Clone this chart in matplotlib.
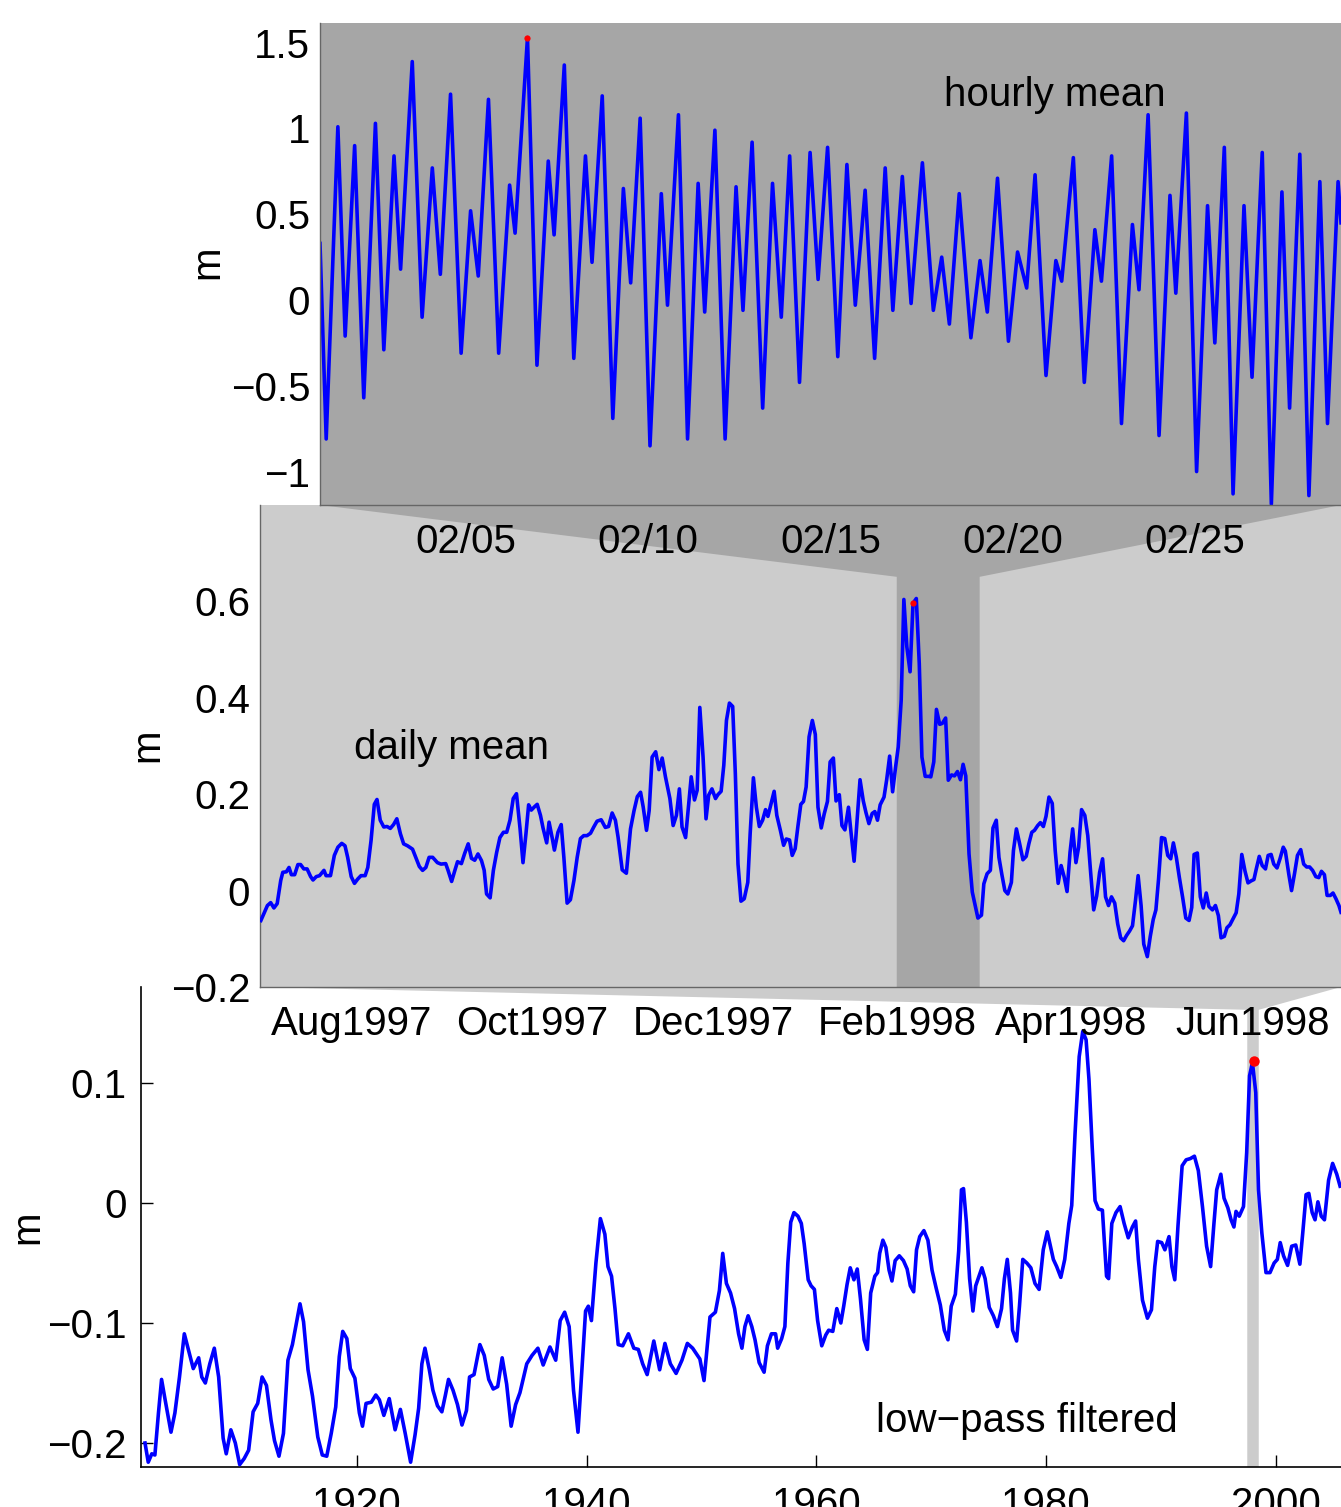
"""
Sea level at three time scales: hourly (Feb 1998), daily (Jul 1997 - Jul 1998)
and low-pass filtered (1901 - 2005), with zoom connectors between the panels.
"""
import numpy as np
import matplotlib
matplotlib.use("Agg")
import matplotlib.pyplot as plt
from matplotlib.patches import Polygon

# ---- hourly mean, days since 1998-02-01 00:00 (read at the turning points)
hourly_t = [0.00, 0.17, 0.49, 0.69, 0.95, 1.20, 1.52, 1.75, 2.03, 2.21, 2.53, 2.80,
            3.08, 3.30, 3.58, 3.87, 4.13, 4.34, 4.62, 4.90, 5.20, 5.35, 5.69, 5.95,
            6.26, 6.42, 6.70, 6.96, 7.28, 7.46, 7.74, 8.03, 8.32, 8.52, 8.78, 9.05,
            9.36, 9.53, 9.83, 10.08, 10.37, 10.55, 10.83, 11.11, 11.41, 11.60, 11.85,
            12.14, 12.41, 12.65, 12.88, 13.15, 13.44, 13.66, 13.92, 14.20, 14.45,
            14.68, 14.95, 15.21, 15.50, 15.71, 15.97, 16.21, 16.52, 16.82, 17.05,
            17.26, 17.53, 17.85, 18.10, 18.30, 18.58, 18.88, 19.13, 19.38, 19.61,
            19.91, 20.18, 20.34, 20.66, 20.96, 21.25, 21.43, 21.71, 21.98, 22.28,
            22.46, 22.71, 23.01, 23.31, 23.47, 23.76, 24.04, 24.34, 24.54, 24.80,
            25.04, 25.34, 25.56, 25.84, 26.09, 26.38, 26.59, 26.87, 27.12, 27.42,
            27.63, 27.92, 28.00]
hourly_m = [0.33, -0.81, 1.01, -0.21, 0.90, -0.57, 1.03, -0.29, 0.84, 0.18, 1.39, -0.10,
            0.77, 0.15, 1.20, -0.31, 0.52, 0.14, 1.17, -0.31, 0.67, 0.39, 1.53, -0.38,
            0.81, 0.38, 1.37, -0.34, 0.84, 0.22, 1.19, -0.69, 0.65, 0.10, 1.06, -0.85,
            0.62, -0.03, 1.08, -0.81, 0.68, -0.07, 0.99, -0.81, 0.66, -0.06, 0.92,
            -0.63, 0.68, -0.10, 0.84, -0.48, 0.86, 0.12, 0.89, -0.33, 0.79,
            -0.03, 0.64, -0.34, 0.77, -0.06, 0.72, -0.02, 0.80, -0.06, 0.25,
            -0.14, 0.62, -0.22, 0.23, -0.07, 0.71, -0.24, 0.28, 0.07, 0.73,
            -0.44, 0.23, 0.11, 0.83, -0.48, 0.41, 0.11, 0.84, -0.72, 0.44,
            0.06, 1.08, -0.79, 0.61, 0.04, 1.09, -1.00, 0.55, -0.25, 0.89,
            -1.13, 0.55, -0.45, 0.86, -1.19, 0.63, -0.63, 0.85, -1.14, 0.69,
            -0.72, 0.69, 0.45]
hourly_peak = (5.69, 1.53)
hourly_ticks = [4, 9, 14, 19, 24]
hourly_ticklabels = ["02/05", "02/10", "02/15", "02/20", "02/25"]
hourly_yticks = [-1, -0.5, 0, 0.5, 1, 1.5]
hourly_yticklabels = ["\u22121", "\u22120.5", "0", "0.5", "1", "1.5"]

# ---- daily mean, days since 1997-07-01
daily_t = [0.3, 2.5, 3.6, 4.7, 5.8, 7.0, 7.7, 8.9, 9.8, 10.6, 11.7, 12.8, 13.7, 14.8,
           15.9, 17.1, 17.9, 19.0, 20.1, 21.6, 22.3, 23.8, 25.1, 26.3, 27.6, 28.7,
           29.6, 30.8, 31.9, 33.0, 34.1, 35.5, 36.4, 37.5, 38.6, 39.5, 40.6, 41.8,
           42.9, 44.0, 45.1, 46.2, 47.4, 48.5, 49.8, 51.5, 52.6, 53.8, 54.9, 56.0,
           57.1, 58.3, 59.9, 61.1, 62.7, 63.5, 64.7, 65.8, 66.7, 68.0, 69.1, 70.3,
           71.4, 72.5, 73.6, 74.8, 75.7, 76.5, 77.7, 78.8, 79.9, 81.0, 82.2, 83.3,
           84.4, 85.5, 86.6, 87.8, 88.8, 89.8, 90.7, 91.6, 92.7, 93.6, 94.7, 95.6,
           96.8, 97.6, 98.7, 99.4, 100.6, 101.7, 102.6, 103.7, 104.8, 106.0, 107.1,
           108.2, 109.3, 110.4, 111.6, 112.7, 113.8, 115.2, 116.6, 117.7, 118.9,
           120.0, 120.9, 122.3, 123.7, 125.1, 126.3, 127.4, 128.5, 129.4, 130.5,
           131.4, 132.4, 133.6, 134.7, 135.8, 136.9, 138.4, 139.5, 140.6, 141.6,
           142.5, 143.7, 144.8, 145.6, 146.7, 147.6, 148.5, 149.6, 150.6, 151.5,
           152.6, 153.8, 154.6, 155.7, 156.6, 157.5, 158.5, 159.6, 160.5, 161.4,
           162.4, 163.5, 164.7, 165.5, 166.6, 167.6, 168.6, 169.7, 170.7, 171.5,
           172.5, 173.6, 174.5, 175.7, 176.8, 177.7, 178.8, 179.7, 180.7, 181.6,
           182.6, 183.5, 184.4, 185.4, 186.5, 187.5, 188.4, 189.5, 190.5, 191.6,
           192.5, 193.6, 194.5, 195.6, 196.5, 197.5, 198.7, 199.6, 200.6, 201.6,
           202.6, 203.7, 204.6, 205.6, 206.7, 207.6, 208.5, 209.4, 210.7, 211.6,
           212.6, 213.6, 214.6, 215.5, 216.5, 217.4, 218.4, 219.5, 220.5, 221.6,
           222.6, 223.5, 224.6, 225.7, 226.5, 227.5, 228.4, 229.5, 230.4, 231.5,
           232.4, 233.5, 234.5, 235.5, 236.5, 237.4, 238.3, 239.4, 240.5, 242.4,
           243.6, 244.4, 245.5, 246.6, 247.5, 248.6, 249.5, 250.5, 251.5, 252.5,
           253.7, 254.4, 255.4, 256.5, 257.6, 258.7, 259.6, 260.6, 261.5, 262.6,
           263.5, 264.5, 265.4, 266.4, 267.5, 268.5, 269.5, 270.5, 271.5, 272.5,
           273.5, 274.4, 275.5, 276.4, 277.4, 278.5, 279.5, 280.5, 281.5, 282.5,
           283.5, 284.5, 285.5, 286.5, 287.5, 288.6, 289.6, 290.6, 291.6, 292.6,
           293.6, 294.6, 295.6, 296.5, 297.5, 298.4, 299.6, 300.6, 301.6, 302.5,
           303.4, 304.4, 305.5, 306.5, 307.5, 308.4, 309.4, 310.4, 311.5, 312.6,
           313.7, 314.6, 315.4, 316.5, 317.5, 318.5, 319.5, 320.4, 321.6, 322.6,
           323.6, 324.5, 325.6, 326.5, 327.5, 328.5, 329.6, 330.5, 331.5, 332.6,
           333.6, 334.6, 335.6, 336.4, 337.4, 338.4, 339.5, 340.4, 341.4, 342.3,
           343.4, 344.4, 345.5, 346.2, 347.4, 348.3, 349.3, 350.3, 351.4, 352.4,
           353.4, 354.4, 355.4, 356.5, 357.5, 358.4, 359.4, 360.3, 361.4, 362.3,
           363.3, 364.3, 365.0]
daily_m = [-0.062, -0.031, -0.025, -0.036, -0.027, 0.021, 0.038, 0.039, 0.048, 0.033,
           0.033, 0.054, 0.054, 0.045, 0.045, 0.029, 0.022, 0.029, 0.031, 0.042,
           0.031, 0.031, 0.073, 0.090, 0.098, 0.093, 0.069, 0.029, 0.015, 0.024,
           0.031, 0.031, 0.048, 0.104, 0.179, 0.189, 0.146, 0.132, 0.133, 0.129,
           0.137, 0.149, 0.118, 0.097, 0.093, 0.086, 0.069, 0.050, 0.042, 0.048,
           0.069, 0.069, 0.058, 0.055, 0.056, 0.042, 0.019, 0.042, 0.060, 0.056,
           0.077, 0.097, 0.067, 0.063, 0.076, 0.062, 0.042, -0.007, -0.015, 0.042,
           0.079, 0.110, 0.121, 0.121, 0.146, 0.191, 0.201, 0.129, 0.058, 0.118,
           0.178, 0.167, 0.174, 0.179, 0.156, 0.129, 0.099, 0.142, 0.108, 0.084,
           0.121, 0.137, 0.069, -0.026, -0.019, 0.021, 0.069, 0.108, 0.114, 0.114,
           0.119, 0.132, 0.144, 0.147, 0.131, 0.133, 0.161, 0.146, 0.111, 0.043,
           0.036, 0.128, 0.166, 0.195, 0.204, 0.173, 0.125, 0.166, 0.277, 0.288,
           0.251, 0.275, 0.236, 0.191, 0.135, 0.156, 0.211, 0.132, 0.110, 0.184,
           0.236, 0.188, 0.208, 0.380, 0.277, 0.149, 0.198, 0.211, 0.191, 0.199,
           0.206, 0.260, 0.353, 0.389, 0.382, 0.242, 0.055, -0.022, -0.017, 0.017,
           0.118, 0.234, 0.173, 0.133, 0.146, 0.168, 0.154, 0.179, 0.206, 0.156,
           0.125, 0.094, 0.107, 0.105, 0.073, 0.087, 0.132, 0.179, 0.185, 0.215,
           0.319, 0.353, 0.324, 0.173, 0.130, 0.159, 0.185, 0.267, 0.275, 0.186,
           0.199, 0.135, 0.126, 0.173, 0.118, 0.061, 0.146, 0.230, 0.186, 0.162,
           0.139, 0.160, 0.164, 0.146, 0.178, 0.194, 0.230, 0.279, 0.205, 0.256,
           0.298, 0.395, 0.604, 0.506, 0.454, 0.596, 0.606, 0.471, 0.277, 0.237,
           0.237, 0.236, 0.267, 0.376, 0.345, 0.347, 0.358, 0.229, 0.240, 0.238,
           0.247, 0.230, 0.262, 0.238, 0.076, -0.003, -0.057, -0.051, 0.014, 0.035,
           0.042, 0.130, 0.146, 0.069, 0.033, 0.000, -0.007, 0.017, 0.083, 0.128,
           0.097, 0.064, 0.071, 0.097, 0.121, 0.125, 0.135, 0.141, 0.133, 0.154,
           0.194, 0.181, 0.083, 0.015, 0.052, 0.029, -0.002, 0.079, 0.128, 0.058,
           0.090, 0.168, 0.156, 0.114, 0.035, -0.040, -0.011, 0.038, 0.066, -0.013,
           -0.031, -0.013, -0.026, -0.069, -0.098, -0.104, -0.093, -0.084, -0.073,
           -0.021, 0.031, -0.031, -0.111, -0.137, -0.095, -0.060, -0.040, 0.024,
           0.110, 0.108, 0.073, 0.066, 0.099, 0.069, 0.028, -0.013, -0.057, -0.062,
           -0.035, 0.075, 0.078, -0.013, -0.036, -0.005, -0.033, -0.040, -0.031,
           -0.052, -0.098, -0.095, -0.077, -0.071, -0.059, -0.046, -0.007, 0.075,
           0.040, 0.016, 0.020, 0.023, 0.045, 0.071, 0.052, 0.045, 0.073, 0.075,
           0.055, 0.047, 0.066, 0.090, 0.082, 0.033, 0.000, 0.035, 0.073, 0.085,
           0.055, 0.049, 0.049, 0.042, 0.029, 0.027, 0.040, 0.033, -0.010, -0.010,
           -0.005, -0.017, -0.031, -0.045]
daily_peak = (220.5, 0.596)
daily_ticks = [31, 92, 153, 215, 274, 335]
daily_ticklabels = ["Aug1997", "Oct1997", "Dec1997", "Feb1998", "Apr1998", "Jun1998"]
daily_yticks = [-0.2, 0, 0.2, 0.4, 0.6]
daily_yticklabels = ["\u22120.2", "0", "0.2", "0.4", "0.6"]
daily_zoom = (215, 243)      # Feb 1998 inside the daily panel

# ---- low-pass filtered, decimal years
lowpass_yr = [1901.55, 1901.83, 1902.14, 1902.41, 1902.72, 1902.99, 1903.30, 1903.81,
              1904.15, 1904.55, 1904.97, 1905.32, 1905.75, 1906.22, 1906.49, 1906.80,
              1907.19, 1907.58, 1907.96, 1908.35, 1908.62, 1909.02, 1909.41, 1909.79,
              1910.18, 1910.57, 1910.96, 1911.36, 1911.74, 1912.12, 1912.52, 1912.82,
              1913.21, 1913.60, 1913.99, 1914.38, 1914.65, 1915.04, 1915.35, 1915.74,
              1916.13, 1916.59, 1916.98, 1917.37, 1917.76, 1918.15, 1918.46, 1918.76,
              1919.12, 1919.42, 1919.82, 1920.21, 1920.48, 1920.79, 1921.25, 1921.64,
              1921.95, 1922.34, 1922.81, 1923.32, 1923.78, 1924.20, 1924.67, 1925.06,
              1925.37, 1925.65, 1925.92, 1926.30, 1926.61, 1927.01, 1927.39, 1927.70,
              1927.97, 1928.36, 1928.75, 1929.14, 1929.53, 1929.80, 1930.19, 1930.70,
              1931.08, 1931.47, 1931.86, 1932.25, 1932.64, 1933.03, 1933.42, 1933.81,
              1934.19, 1934.78, 1935.24, 1935.75, 1936.21, 1936.80, 1937.30, 1937.69,
              1938.08, 1938.47, 1938.85, 1939.24, 1939.64, 1939.90, 1940.14, 1940.41,
              1940.80, 1941.19, 1941.58, 1941.85, 1942.16, 1942.46, 1942.74, 1943.13,
              1943.63, 1944.10, 1944.49, 1944.87, 1945.26, 1945.84, 1946.35, 1946.81,
              1947.28, 1947.78, 1948.29, 1948.76, 1949.22, 1949.85, 1950.21, 1950.73,
              1951.20, 1951.55, 1951.84, 1952.16, 1952.52, 1952.87, 1953.22, 1953.51,
              1953.77, 1954.05, 1954.37, 1954.65, 1955.01, 1955.44, 1955.73, 1956.08,
              1956.44, 1956.62, 1956.97, 1957.25, 1957.51, 1957.76, 1958.04, 1958.39,
              1958.68, 1958.93, 1959.28, 1959.53, 1959.82, 1960.10, 1960.46, 1960.81,
              1961.06, 1961.42, 1961.77, 1962.12, 1962.37, 1962.66, 1962.94, 1963.26,
              1963.55, 1963.83, 1964.15, 1964.43, 1964.72, 1965.08, 1965.32, 1965.50,
              1965.78, 1966.04, 1966.32, 1966.57, 1966.85, 1967.21, 1967.57, 1967.89,
              1968.17, 1968.46, 1968.71, 1968.99, 1969.35, 1969.70, 1970.06, 1970.42,
              1970.78, 1971.13, 1971.45, 1971.73, 1972.09, 1972.38, 1972.62, 1972.80,
              1973.05, 1973.33, 1973.62, 1973.86, 1974.15, 1974.40, 1974.68, 1975.04,
              1975.40, 1975.75, 1976.11, 1976.36, 1976.61, 1976.89, 1977.07, 1977.42,
              1977.67, 1977.96, 1978.31, 1978.66, 1979.02, 1979.38, 1979.74, 1980.09,
              1980.37, 1980.62, 1980.91, 1981.27, 1981.61, 1981.97, 1982.22, 1982.51,
              1982.87, 1983.18, 1983.47, 1983.72, 1984.00, 1984.25, 1984.54, 1984.89,
              1985.25, 1985.43, 1985.71, 1986.07, 1986.43, 1986.78, 1987.14, 1987.50,
              1987.78, 1988.02, 1988.38, 1988.81, 1989.16, 1989.45, 1989.70, 1990.05,
              1990.33, 1990.69, 1990.94, 1991.19, 1991.47, 1991.83, 1992.18, 1992.54,
              1992.90, 1993.24, 1993.60, 1993.96, 1994.31, 1994.60, 1994.84, 1995.20,
              1995.48, 1995.81, 1996.09, 1996.34, 1996.52, 1996.80, 1997.17, 1997.45,
              1997.70, 1997.95, 1998.24, 1998.48, 1998.77, 1999.13, 1999.48, 1999.84,
              2000.12, 2000.37, 2000.66, 2001.01, 2001.37, 2001.72, 2002.08, 2002.33,
              2002.62, 2002.86, 2003.15, 2003.40, 2003.65, 2003.94, 2004.22, 2004.58,
              2004.93, 2005.29, 2005.58]
lowpass_m = [-0.200, -0.216, -0.209, -0.210, -0.175, -0.147, -0.164, -0.191,
             -0.175, -0.145, -0.109, -0.122, -0.138, -0.129, -0.145, -0.150,
             -0.134, -0.121, -0.145, -0.196, -0.209, -0.189, -0.200, -0.218,
             -0.213, -0.206, -0.174, -0.167, -0.145, -0.152, -0.181, -0.198,
             -0.211, -0.192, -0.131, -0.118, -0.104, -0.084, -0.099, -0.139,
             -0.161, -0.195, -0.210, -0.211, -0.192, -0.170, -0.128, -0.107,
             -0.113, -0.138, -0.146, -0.175, -0.186, -0.167, -0.166, -0.160,
             -0.164, -0.177, -0.163, -0.189, -0.172, -0.192, -0.216, -0.193,
             -0.171, -0.134, -0.121, -0.139, -0.156, -0.169, -0.174, -0.160,
             -0.147, -0.156, -0.168, -0.185, -0.173, -0.145, -0.143, -0.118,
             -0.127, -0.147, -0.155, -0.153, -0.129, -0.151, -0.186, -0.168,
             -0.158, -0.134, -0.127, -0.121, -0.135, -0.120, -0.131, -0.098,
             -0.091, -0.103, -0.156, -0.191, -0.129, -0.090, -0.086, -0.098,
             -0.050, -0.013, -0.026, -0.053, -0.061, -0.088, -0.118, -0.119,
             -0.109, -0.121, -0.122, -0.134, -0.143, -0.115, -0.139, -0.117,
             -0.134, -0.142, -0.131, -0.117, -0.121, -0.130, -0.148, -0.095,
             -0.091, -0.073, -0.042, -0.067, -0.075, -0.088, -0.109, -0.121,
             -0.103, -0.094, -0.103, -0.114, -0.133, -0.141, -0.119, -0.109,
             -0.109, -0.121, -0.113, -0.103, -0.050, -0.016, -0.008, -0.011,
             -0.017, -0.034, -0.064, -0.069, -0.072, -0.098, -0.119, -0.110,
             -0.106, -0.107, -0.088, -0.100, -0.086, -0.068, -0.054, -0.064,
             -0.055, -0.080, -0.114, -0.122, -0.075, -0.061, -0.058, -0.042,
             -0.031, -0.037, -0.056, -0.065, -0.048, -0.044, -0.048, -0.055,
             -0.069, -0.074, -0.039, -0.028, -0.023, -0.031, -0.056, -0.071,
             -0.085, -0.106, -0.114, -0.086, -0.076, -0.040, 0.011, 0.012,
             -0.016, -0.063, -0.090, -0.069, -0.061, -0.054, -0.063, -0.087,
             -0.094, -0.103, -0.088, -0.063, -0.047, -0.075, -0.106, -0.115,
             -0.086, -0.047, -0.050, -0.054, -0.067, -0.072, -0.039, -0.024,
             -0.036, -0.047, -0.053, -0.062, -0.047, -0.017, -0.002, 0.058,
             0.122, 0.143, 0.136, 0.103, 0.047, 0.002, -0.005, -0.006,
             -0.061, -0.063, -0.017, -0.008, -0.003, -0.017, -0.029, -0.020,
             -0.015, -0.047, -0.081, -0.096, -0.089, -0.053, -0.032, -0.033,
             -0.039, -0.028, -0.053, -0.064, -0.019, 0.031, 0.036, 0.037,
             0.039, 0.027, -0.003, -0.036, -0.053, -0.017, 0.011, 0.024,
             0.004, -0.004, -0.014, -0.020, -0.007, -0.011, -0.003, 0.042,
             0.106, 0.117, 0.092, 0.011, -0.025, -0.058, -0.058, -0.050,
             -0.047, -0.033, -0.044, -0.052, -0.036, -0.035, -0.051, -0.025,
             0.007, 0.008, -0.008, -0.014, 0.001, -0.011, -0.014, 0.019,
             0.033, 0.024, 0.014]
lowpass_peak = (1998.1, 0.118)
lowpass_ticks = [1920, 1940, 1960, 1980, 2000]
lowpass_yticks = [-0.2, -0.1, 0, 0.1]
lowpass_yticklabels = ["\u22120.2", "\u22120.1", "0", "0.1"]
lowpass_zoom = (1997.5, 1998.5)   # Jul 1997 - Jul 1998 inside the low-pass panel

plt.rcParams['font.family'] = ['Liberation Sans', 'DejaVu Sans']
plt.rcParams['font.size'] = 29

W, H = 1341, 1507
DARK, LIGHT, BLUE = '#a6a6a6', '#cccccc', '#0000ff'
LW = 2.6


def box(left, top, right, bottom):
    """pixel box -> figure fraction [l, b, w, h]"""
    return [left / W, 1 - bottom / H, (right - left) / W, (bottom - top) / H]


fig = plt.figure(figsize=(W / 100, H / 100), dpi=100)
# added bottom-up so every panel's tick labels sit on top of the panel below
ax3 = fig.add_axes(box(141, 987, 1341, 1467))
ax2 = fig.add_axes(box(260, 505, 1341, 987))
ax1 = fig.add_axes(box(320, 23, 1341, 505))

# hourly
ax1.set_facecolor(DARK)
ax1.plot(hourly_t, hourly_m, color=BLUE, lw=LW)
ax1.plot(*hourly_peak, 'o', color='red', ms=4.5, mec='none')
ax1.set_xlim(0, 28)
ax1.set_ylim(-1.195, 1.615)
ax1.set_xticks(hourly_ticks, hourly_ticklabels)
ax1.set_yticks(hourly_yticks, hourly_yticklabels)
ax1.text(17.1, 1.131, "hourly mean")

# daily
ax2.set_facecolor(LIGHT)
ax2.plot(daily_t, daily_m, color=BLUE, lw=LW, zorder=3)
ax2.plot(*daily_peak, 'o', color='red', ms=4.5, mec='none', zorder=4)
ax2.set_xlim(0, 365)
ax2.set_ylim(-0.2, 0.8)
ax2.set_xticks(daily_ticks, daily_ticklabels)
ax2.set_yticks(daily_yticks, daily_yticklabels)
ax2.text(31.6, 0.274, "daily mean")

# low-pass
ax3.plot(lowpass_yr, lowpass_m, color=BLUE, lw=LW, zorder=3)
ax3.plot(*lowpass_peak, 'o', color='red', ms=7.5, mec='none', zorder=4)
ax3.set_xlim(1901.2, 2005.66)
ax3.set_ylim(-0.22, 0.18)
ax3.set_xticks(lowpass_ticks)
ax3.set_yticks(lowpass_yticks, lowpass_yticklabels)
ax3.text(1965.15, -0.1906, "low\u2212pass filtered")

for ax in (ax1, ax2):
    for side in ('top', 'right'):
        ax.spines[side].set_visible(False)
    for side in ('left', 'bottom'):
        ax.spines[side].set_color('#666666')
        ax.spines[side].set_linewidth(1.0)
    ax.tick_params(length=0)
    ax.tick_params(axis='y', pad=7)
    ax.tick_params(axis='x', pad=13)

for side in ('top', 'right'):
    ax3.spines[side].set_visible(False)
for side in ('left', 'bottom'):
    ax3.spines[side].set_linewidth(1.2)
ax3.tick_params(direction='in', length=8.5, width=1)
ax3.tick_params(axis='y', pad=10.5)
ax3.tick_params(axis='x', pad=14)

# zoom connectors: bottom edge of the upper panel fanned onto a band in the lower one
to_fig = fig.transFigure.inverted()


def connector(upper, lower, x0, x1, band_top, color):
    ybot = lower.get_ylim()[0]
    pts = [upper.transAxes.transform((0, 0)), upper.transAxes.transform((1, 0)),
           lower.transData.transform((x1, band_top)), lower.transData.transform((x1, ybot)),
           lower.transData.transform((x0, ybot)), lower.transData.transform((x0, band_top))]
    poly = Polygon(to_fig.transform(np.array(pts)), closed=True, transform=fig.transFigure,
                   facecolor=color, edgecolor='none', zorder=0.5, clip_on=False)
    lower.add_patch(poly)


connector(ax1, ax2, *daily_zoom, 0.651, DARK)
connector(ax2, ax3, *lowpass_zoom, 0.161, LIGHT)

# y labels
for x_px, y_px in [(218, 262), (158, 745), (38, 1227)]:
    fig.text(x_px / W, 1 - y_px / H, "m", rotation=90, rotation_mode='anchor',
             ha='center', va='baseline')

fig.savefig("out.png", dpi=100, facecolor='white')
